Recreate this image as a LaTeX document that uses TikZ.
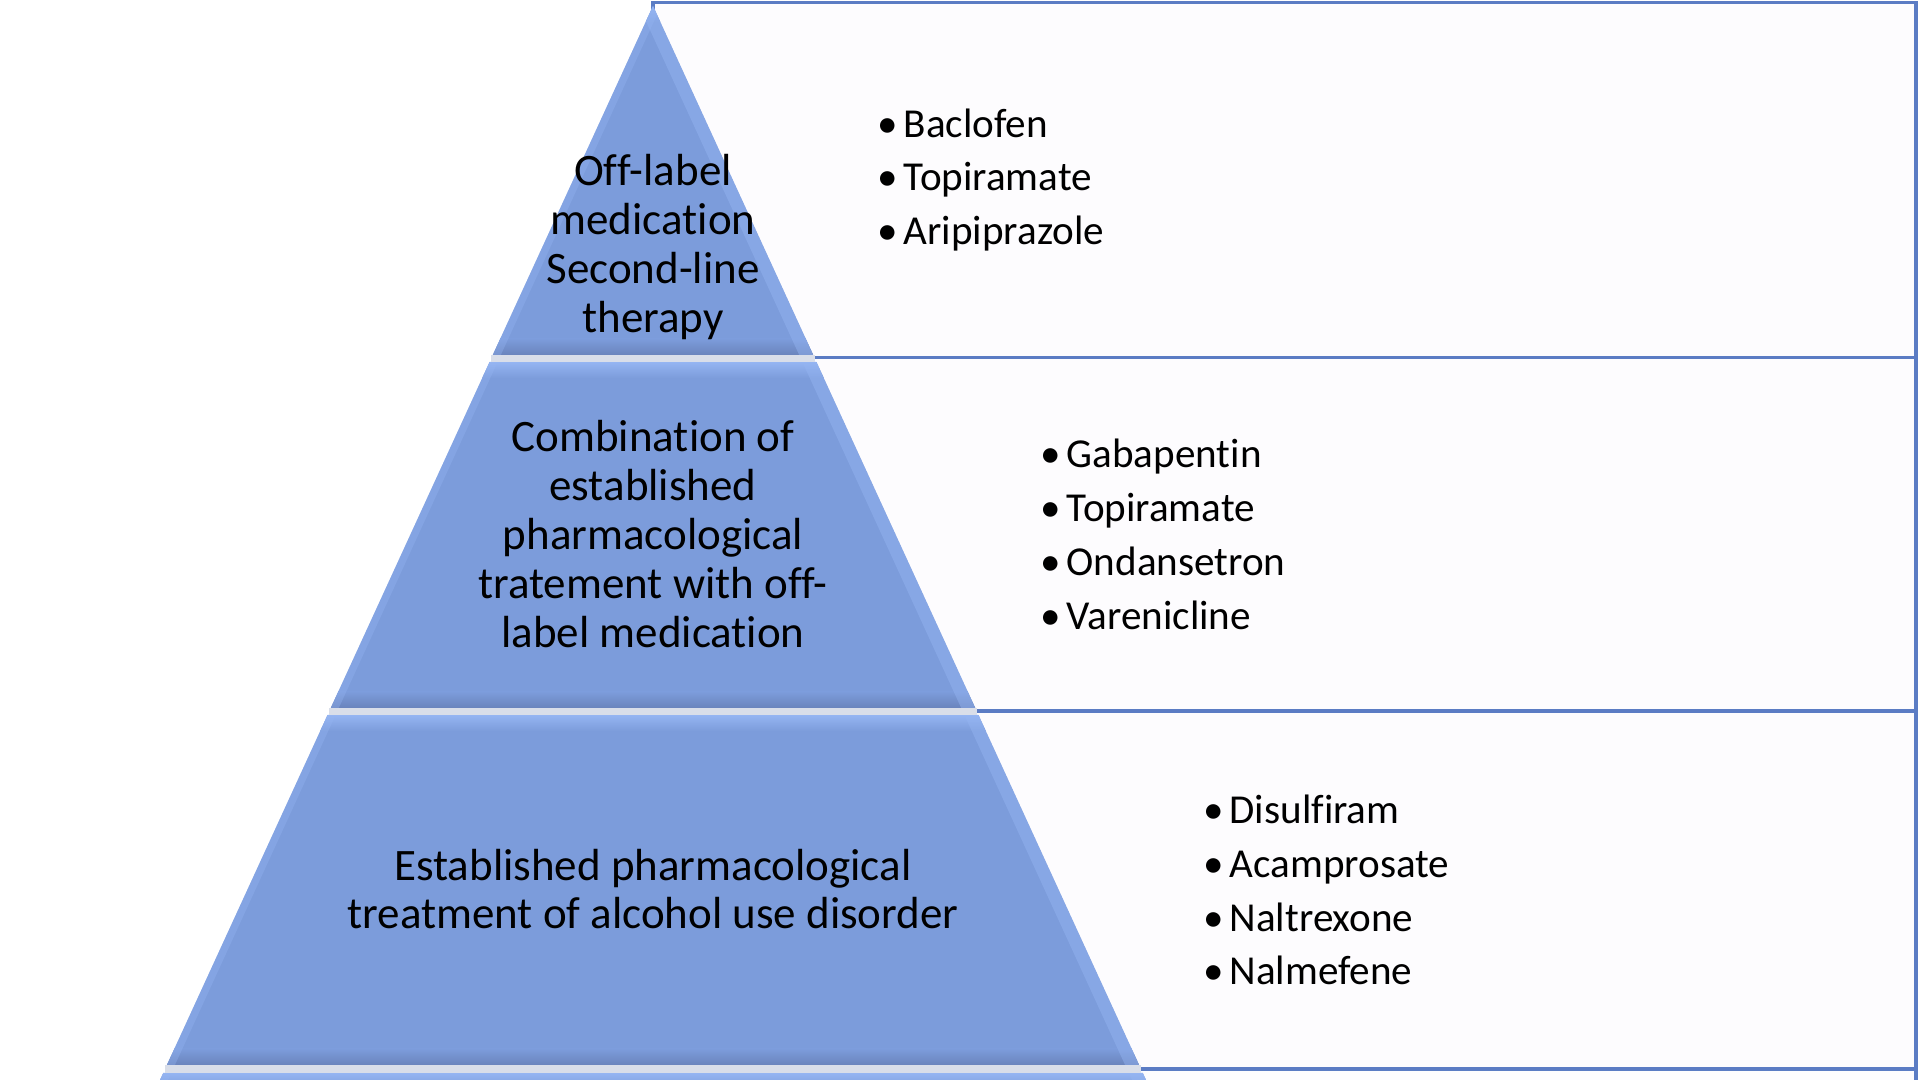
\documentclass[tikz,border=0pt]{standalone}
\usepackage{fontspec}
\setmainfont{Carlito}[Ligatures=NoCommon]
\usetikzlibrary{calc}

\definecolor{tierblue}{HTML}{7C9CDB}
\definecolor{tierlight}{HTML}{95B5F2}
\definecolor{tierdark}{HTML}{6A84BC}
\definecolor{boxline}{HTML}{5B7CC4}
\definecolor{boxfill}{HTML}{FDFCFE}
\definecolor{gapgray}{HTML}{D9DEE9}

\newcommand\drug[1]{\makebox[0.26cm][l]{•}#1}

\begin{document}
\begin{tikzpicture}[
		listbox/.style={draw=boxline,line width=0.9pt,fill=boxfill},
		tiertext/.style={align=center,inner sep=0pt,font=\fontsize{12.8}{13.9}\selectfont},
		druglist/.style={align=left,anchor=west,inner sep=0pt,font=\fontsize{11.7}{15.3}\selectfont},
	]
		\useasboundingbox (0,0) rectangle (19.2,10.8);
		\clip (0,0) rectangle (19.2,10.8);
		\coordinate (apex) at (6.53,10.74);
		% boxes behind the pyramid
		\draw [listbox] (apex |- 0,10.776) rectangle (19.16,7.224);
		\draw [listbox] (apex |- 0,7.224) rectangle (19.16,3.69);
		\draw [listbox] (apex |- 0,3.69) rectangle (19.16,0.11);
		\draw [listbox] (apex |- 0,0.11) rectangle (19.16,-0.5);
		% pyramid tiers
		\foreach \yt/\yb in {10.74/7.25, 7.18/3.72, 3.65/0.15, 0.07/-0.4}{
			\pgfmathsetmacro\wt{0.459*(10.74-\yt)}
			\pgfmathsetmacro\wb{0.459*(10.74-\yb)}
			\begin{scope}
				\clip ($(apex)+(-\wt,\yt-10.74)$) -- ($(apex)+(\wt,\yt-10.74)$) -- ($(apex)+(\wb,\yb-10.74)$) -- ($(apex)+(-\wb,\yb-10.74)$) -- cycle;
				\fill [tierblue] (0,\yt) rectangle (19.2,\yb);
				\shade [top color=tierlight,bottom color=tierblue] (0,\yt) rectangle (19.2,\yt-0.16);
				\shade [top color=tierblue,bottom color=tierdark] (0,\yb+0.16) rectangle (19.2,\yb);
				\fill [tierlight,opacity=0.45] ($(apex)+(\wt,\yt-10.74)$) -- ($(apex)+(\wb,\yb-10.74)$) -- ($(apex)+(\wb-0.14,\yb-10.74)$) -- ($(apex)+(\wt-0.14,\yt-10.74)$) -- cycle;
				\fill [tierlight,opacity=0.35] ($(apex)+(-\wt,\yt-10.74)$) -- ($(apex)+(-\wb,\yb-10.74)$) -- ($(apex)+(-\wb+0.08,\yb-10.74)$) -- ($(apex)+(-\wt+0.08,\yt-10.74)$) -- cycle;
			\end{scope}
		}
		% light gaps between tiers
		\foreach \yg in {7.215, 3.685, 0.11}{
			\pgfmathsetmacro\wg{0.459*(10.74-\yg)}
			\draw [gapgray,line width=2pt] ($(apex)+(-\wg,\yg-10.74)$) -- ($(apex)+(\wg,\yg-10.74)$);
		}
		% tier labels
		\node [tiertext] (t1) at (6.53,8.33) {Off-label\\medication\\Second-line\\therapy};
		\node [tiertext] (t2) at (6.53,5.46) {Combination of\\established\\pharmacological\\tratement with off-\\label medication};
		\node [tiertext] (t3) at (6.53,1.91) {Established pharmacological\\treatment of alcohol use disorder};
		% drug lists
		\node [druglist] (l1) at (8.77,9.0) {\drug{Baclofen}\\\drug{Topiramate}\\\drug{Aripiprazole}};
		\node [druglist] (l2) at (10.40,5.457) {\drug{Gabapentin}\\\drug{Topiramate}\\\drug{Ondansetron}\\\drug{Varenicline}};
		\node [druglist] (l3) at (12.03,1.9) {\drug{Disulfiram}\\\drug{Acamprosate}\\\drug{Naltrexone}\\\drug{Nalmefene}};
	\end{tikzpicture}
\end{document}
